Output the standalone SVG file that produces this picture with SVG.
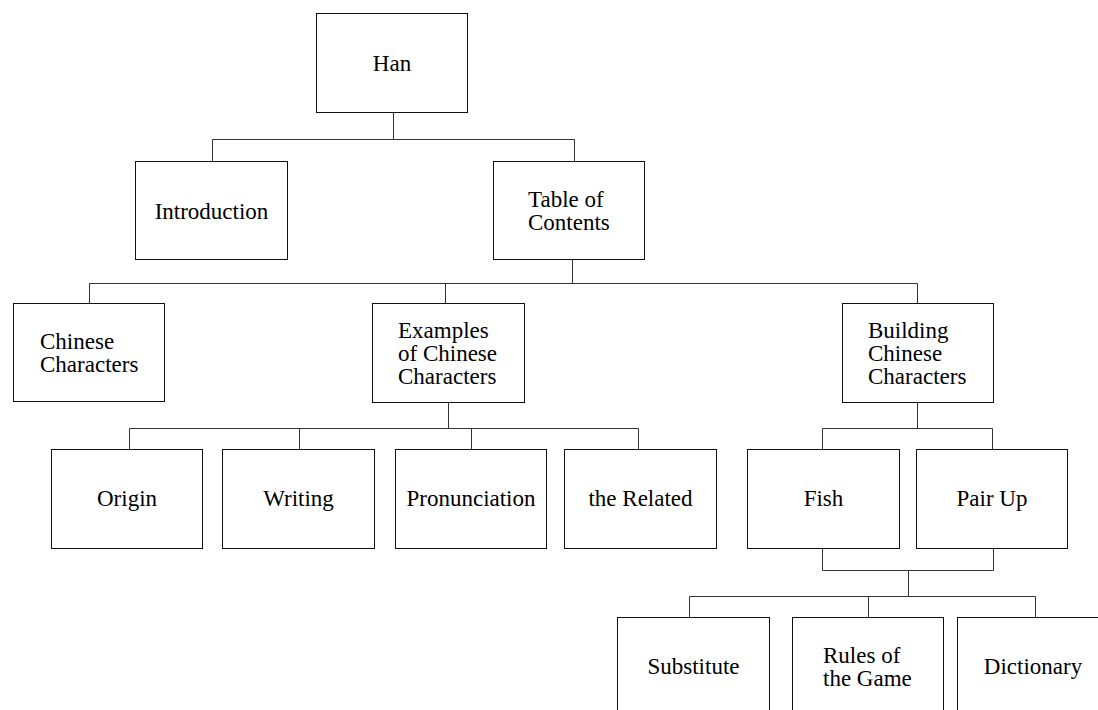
<svg xmlns="http://www.w3.org/2000/svg" width="1098" height="710" viewBox="0 0 1098 710">
<style>
rect{fill:#fff;stroke:#111;stroke-width:1}
text{font-family:"Liberation Serif","Times New Roman",serif;font-size:23px;fill:#000}
.c{text-anchor:middle}
#connectors path{fill:none;stroke:#333;stroke-width:1}
</style>
<rect x="0" y="0" width="1098" height="710" style="stroke:none"/>
<g id="connectors">
<path d="M393.5,112 V139.5 M212.5,139.5 H574.5 M212.5,139.5 V161 M574.5,139.5 V161"/>
<path d="M572.5,259 V283.5 M89.5,283.5 H917.5 M89.5,283.5 V303 M445.5,283.5 V303 M917.5,283.5 V303"/>
<path d="M448.5,402 V428.5 M129.5,428.5 H638.5 M129.5,428.5 V449 M299.5,428.5 V449 M471.5,428.5 V449 M638.5,428.5 V449"/>
<path d="M917.5,402 V428.5 M822.5,428.5 H992.5 M822.5,428.5 V449 M992.5,428.5 V449"/>
<path d="M822.5,548 V570.5 M993.5,548 V570.5 M822.5,570.5 H993.5 M908.5,570.5 V596.5 M689.5,596.5 H1035.5 M689.5,596.5 V617 M868.5,596.5 V617 M1035.5,596.5 V617"/>
</g>
<g id="han"><rect x="316.5" y="13.5" width="151" height="99"/><text class="c" x="392" y="71">Han</text></g>
<g id="introduction"><rect x="135.5" y="161.5" width="152" height="98"/><text class="c" x="211.5" y="219">Introduction</text></g>
<g id="toc"><rect x="493.5" y="161.5" width="151" height="98"/><text x="528" y="207">Table of</text><text x="528" y="230">Contents</text></g>
<g id="chinese-characters"><rect x="13.5" y="303.5" width="151" height="98"/><text x="40" y="349">Chinese</text><text x="40" y="372">Characters</text></g>
<g id="examples"><rect x="372.5" y="303.5" width="152" height="99"/><text x="398" y="338">Examples</text><text x="398" y="361">of Chinese</text><text x="398" y="384">Characters</text></g>
<g id="building"><rect x="842.5" y="303.5" width="151" height="99"/><text x="868" y="338">Building</text><text x="868" y="361">Chinese</text><text x="868" y="384">Characters</text></g>
<g id="origin"><rect x="51.5" y="449.5" width="151" height="99"/><text class="c" x="127" y="506">Origin</text></g>
<g id="writing"><rect x="222.5" y="449.5" width="152" height="99"/><text class="c" x="298.5" y="506">Writing</text></g>
<g id="pronunciation"><rect x="395.5" y="449.5" width="151" height="99"/><text class="c" x="471" y="506">Pronunciation</text></g>
<g id="related"><rect x="564.5" y="449.5" width="152" height="99"/><text class="c" x="640.5" y="506">the Related</text></g>
<g id="fish"><rect x="747.5" y="449.5" width="152" height="99"/><text class="c" x="823.5" y="506">Fish</text></g>
<g id="pair-up"><rect x="916.5" y="449.5" width="151" height="99"/><text class="c" x="992" y="506">Pair Up</text></g>
<g id="substitute"><rect x="617.5" y="617.5" width="152" height="99"/><text class="c" x="693.5" y="674">Substitute</text></g>
<g id="rules"><rect x="792.5" y="617.5" width="151" height="99"/><text x="823" y="663">Rules of</text><text x="823" y="686">the Game</text></g>
<g id="dictionary"><rect x="957.5" y="617.5" width="151" height="99"/><text class="c" x="1033" y="674">Dictionary</text></g>
</svg>
